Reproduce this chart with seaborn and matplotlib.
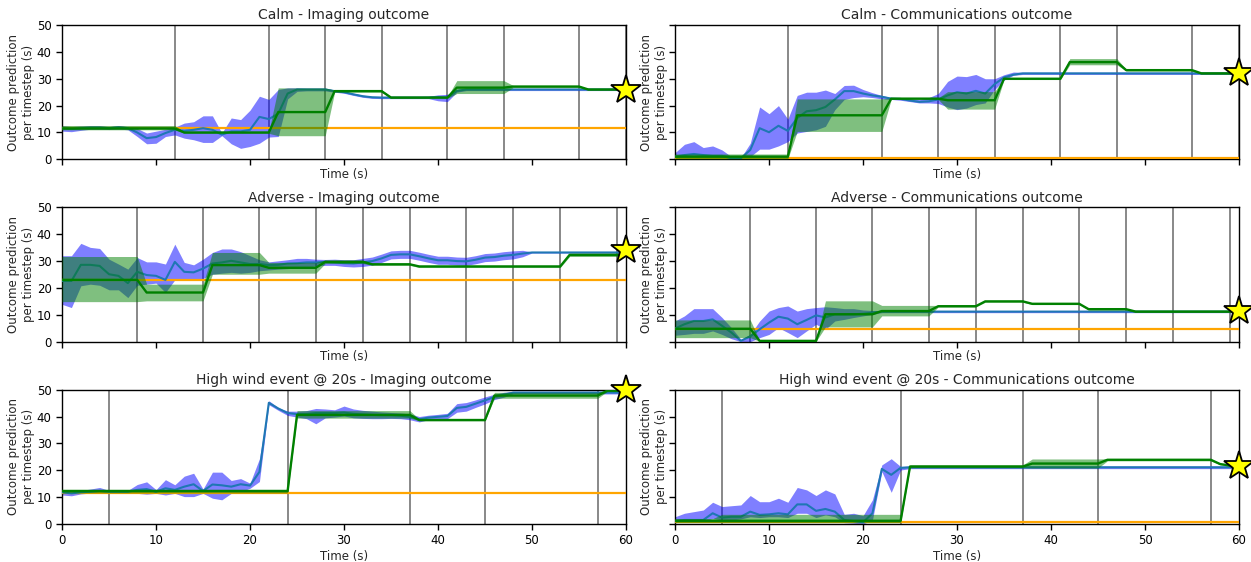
import numpy as np
import matplotlib
matplotlib.use("Agg")
import matplotlib.pyplot as plt
import seaborn as sns

time = np.arange(0, 61)

# ---------------- Calm - Imaging ----------------
calm_img_blue = [
    11.5, 11.3, 11.6, 11.8, 11.8, 11.6, 11.9, 11.6, 10.0, 7.9,
    8.3, 9.8, 11.0, 10.6, 11.0, 11.6, 11.0, 9.2, 10.4, 10.4,
    11.0, 15.8, 15.0, 17.0, 24.5, 26.0, 26.0, 26.0, 26.0, 25.4,
    25.0, 24.2, 23.5, 23.1, 23.0, 23.0, 23.0, 23.0, 23.0, 23.0,
    23.2, 23.0, 25.5, 26.0, 26.0, 26.0, 26.0, 26.0, 26.0, 26.0,
    26.0, 26.0, 26.0, 26.0, 26.0, 26.0, 26.0, 26.0, 26.0, 26.0,
    26.0]
calm_img_blue_lo = [
    10.5, 10.3, 10.8, 11.2, 11.2, 11.1, 11.3, 11.0, 8.5, 5.8,
    6.0, 8.5, 9.1, 7.9, 7.3, 6.3, 6.3, 8.8, 5.8, 4.1,
    4.8, 6.0, 8.3, 8.5, 22.5, 25.3, 25.5, 25.5, 25.5, 25.0,
    24.6, 23.8, 23.1, 22.7, 22.6, 22.6, 22.6, 22.6, 22.6, 22.6,
    21.8, 21.5, 25.0, 25.6, 25.6, 25.6, 25.6, 25.6, 25.6, 25.6,
    25.6, 25.6, 25.6, 25.6, 25.6, 25.6, 25.6, 25.6, 25.6, 25.6,
    25.6]
calm_img_blue_hi = [
    12.5, 12.2, 12.4, 12.5, 12.5, 12.2, 12.6, 12.2, 11.5, 9.8,
    10.5, 11.2, 12.0, 13.5, 14.0, 16.2, 16.2, 9.8, 15.4, 14.8,
    18.3, 23.5, 22.3, 26.0, 26.6, 26.6, 26.5, 26.5, 26.5, 25.8,
    25.4, 24.6, 23.9, 23.5, 23.4, 23.4, 23.4, 23.4, 23.4, 23.5,
    24.0, 24.2, 26.0, 26.4, 26.4, 26.4, 26.4, 26.4, 26.4, 26.4,
    26.4, 26.4, 26.4, 26.4, 26.4, 26.4, 26.4, 26.4, 26.4, 26.4,
    26.4]
calm_img_green = [
    11.5, 11.5, 11.5, 11.5, 11.5, 11.5, 11.5, 11.5, 11.5, 11.5,
    11.5, 11.5, 11.5, 10.0, 10.0, 10.0, 10.0, 10.0, 10.0, 10.0,
    10.0, 10.0, 10.0, 17.6, 17.6, 17.6, 17.6, 17.6, 17.6, 25.4,
    25.4, 25.4, 25.4, 25.4, 25.4, 23.0, 23.0, 23.0, 23.0, 23.0,
    23.0, 23.0, 26.7, 26.7, 26.7, 26.7, 26.7, 26.7, 27.1, 27.1,
    27.1, 27.1, 27.1, 27.1, 27.1, 27.1, 26.0, 26.0, 26.0, 26.0,
    26.0]
calm_img_green_lo = [
    11.0, 11.0, 11.0, 11.0, 11.0, 11.0, 11.0, 11.0, 11.0, 11.0,
    11.0, 11.0, 11.0, 9.7, 9.7, 9.7, 9.7, 9.7, 9.7, 9.7,
    9.7, 9.7, 9.7, 8.8, 8.8, 8.8, 8.8, 8.8, 8.8, 25.0,
    25.0, 25.0, 25.0, 25.0, 25.0, 22.7, 22.7, 22.7, 22.7, 22.7,
    22.7, 22.7, 24.5, 24.5, 24.5, 24.5, 24.5, 24.5, 26.7, 26.7,
    26.7, 26.7, 26.7, 26.7, 26.7, 26.7, 25.7, 25.7, 25.7, 25.7,
    25.7]
calm_img_green_hi = [
    12.6, 12.6, 12.6, 12.6, 12.6, 12.6, 12.6, 12.6, 12.6, 12.6,
    12.6, 12.6, 12.6, 10.3, 10.3, 10.3, 10.3, 10.3, 10.3, 10.3,
    10.3, 10.3, 10.3, 26.6, 26.6, 26.6, 26.6, 26.6, 26.6, 25.8,
    25.8, 25.8, 25.8, 25.8, 25.8, 23.3, 23.3, 23.3, 23.3, 23.3,
    23.3, 23.3, 29.3, 29.3, 29.3, 29.3, 29.3, 29.3, 27.5, 27.5,
    27.5, 27.5, 27.5, 27.5, 27.5, 27.5, 26.3, 26.3, 26.3, 26.3,
    26.3]

# ---------------- Calm - Communications ----------------
calm_comm_blue = [
    1.0, 1.6, 2.0, 1.6, 1.3, 1.3, 0.4, 0.4, 3.5, 11.6,
    10.1, 12.5, 10.6, 15.4, 17.9, 18.3, 19.5, 22.3, 25.4, 25.4,
    24.5, 23.8, 23.3, 22.6, 22.5, 21.9, 21.4, 21.6, 22.3, 23.8,
    25.0, 24.5, 25.5, 24.5, 28.0, 30.5, 31.5, 32.0, 32.0, 32.0,
    32.0, 32.0, 32.0, 32.0, 32.0, 32.0, 32.0, 32.0, 32.0, 32.0,
    32.0, 32.0, 32.0, 32.0, 32.0, 32.0, 32.0, 32.0, 32.0, 32.0,
    32.0]
calm_comm_blue_lo = [
    0.0, 0.8, 1.0, 0.6, 0.4, 0.0, 0.0, 0.0, 1.0, 3.8,
    3.8, 5.0, 6.6, 9.8, 10.4, 11.0, 12.3, 18.5, 22.3, 23.0,
    23.3, 23.0, 22.5, 22.3, 22.0, 21.5, 21.0, 21.0, 20.8, 19.5,
    18.5, 19.1, 20.4, 21.0, 26.0, 29.5, 31.3, 31.6, 31.6, 31.6,
    31.6, 31.6, 31.6, 31.6, 31.6, 31.6, 31.6, 31.6, 31.6, 31.6,
    31.6, 31.6, 31.6, 31.6, 31.6, 31.6, 31.6, 31.6, 31.6, 31.6,
    31.6]
calm_comm_blue_hi = [
    2.5, 5.6, 6.6, 4.4, 5.0, 3.5, 1.0, 0.6, 6.0, 19.5,
    17.0, 20.0, 15.0, 23.8, 25.0, 25.0, 25.8, 24.5, 27.5, 27.6,
    26.0, 24.8, 23.8, 23.0, 23.0, 22.5, 22.2, 23.0, 24.5, 29.0,
    31.0, 30.8, 31.6, 30.0, 30.0, 31.5, 32.5, 32.4, 32.4, 32.4,
    32.4, 32.4, 32.4, 32.4, 32.4, 32.4, 32.4, 32.4, 32.4, 32.4,
    32.4, 32.4, 32.4, 32.4, 32.4, 32.4, 32.4, 32.4, 32.4, 32.4,
    32.4]
calm_comm_green = [
    1.0, 1.0, 1.0, 1.0, 1.0, 1.0, 1.0, 1.0, 1.0, 1.0,
    1.0, 1.0, 1.0, 16.4, 16.4, 16.4, 16.4, 16.4, 16.4, 16.4,
    16.4, 16.4, 16.4, 22.6, 22.6, 22.6, 22.6, 22.6, 22.6, 22.0,
    22.0, 22.0, 22.0, 22.0, 22.0, 30.0, 30.0, 30.0, 30.0, 30.0,
    30.0, 30.0, 36.2, 36.2, 36.2, 36.2, 36.2, 36.2, 33.2, 33.2,
    33.2, 33.2, 33.2, 33.2, 33.2, 33.2, 32.0, 32.0, 32.0, 32.0,
    32.0]
calm_comm_green_lo = [
    0.2, 0.2, 0.2, 0.2, 0.2, 0.2, 0.2, 0.2, 0.2, 0.2,
    0.2, 0.2, 0.2, 10.4, 10.4, 10.4, 10.4, 10.4, 10.4, 10.4,
    10.4, 10.4, 10.4, 22.3, 22.3, 22.3, 22.3, 22.3, 22.3, 18.7,
    18.7, 18.7, 18.7, 18.7, 18.7, 29.7, 29.7, 29.7, 29.7, 29.7,
    29.7, 29.7, 35.2, 35.2, 35.2, 35.2, 35.2, 35.2, 32.9, 32.9,
    32.9, 32.9, 32.9, 32.9, 32.9, 32.9, 31.7, 31.7, 31.7, 31.7,
    31.7]
calm_comm_green_hi = [
    2.0, 2.0, 2.0, 2.0, 2.0, 2.0, 2.0, 2.0, 2.0, 2.0,
    2.0, 2.0, 2.0, 22.5, 22.5, 22.5, 22.5, 22.5, 22.5, 22.5,
    22.5, 22.5, 22.5, 22.9, 22.9, 22.9, 22.9, 22.9, 22.9, 25.2,
    25.2, 25.2, 25.2, 25.2, 25.2, 30.3, 30.3, 30.3, 30.3, 30.3,
    30.3, 30.3, 37.5, 37.5, 37.5, 37.5, 37.5, 37.5, 33.5, 33.5,
    33.5, 33.5, 33.5, 33.5, 33.5, 33.5, 32.3, 32.3, 32.3, 32.3,
    32.3]

# ---------------- Adverse - Imaging ----------------
adv_img_blue = [
    22.6, 22.6, 28.6, 28.6, 28.2, 25.1, 24.5, 21.8, 26.0, 24.8,
    24.5, 23.0, 29.7, 26.0, 25.8, 27.2, 29.1, 29.5, 30.1, 29.5,
    28.9, 28.9, 28.5, 28.6, 29.1, 29.2, 29.5, 29.5, 29.7, 29.5,
    29.2, 29.1, 29.5, 30.0, 31.0, 32.3, 32.5, 32.5, 31.8, 31.0,
    30.3, 30.3, 30.0, 29.9, 30.5, 31.3, 31.5, 32.0, 32.3, 32.8,
    33.2, 33.2, 33.2, 33.2, 33.2, 33.2, 33.2, 33.2, 33.2, 33.2,
    33.2]
adv_img_blue_lo = [
    13.9, 12.7, 20.8, 21.4, 21.0, 19.3, 19.3, 16.4, 21.0, 21.4,
    21.8, 18.3, 23.0, 23.0, 23.3, 23.5, 25.1, 25.5, 25.8, 25.5,
    25.8, 26.4, 26.7, 27.0, 27.2, 27.6, 27.6, 28.2, 28.4, 28.4,
    28.0, 27.8, 28.0, 28.5, 29.5, 30.8, 31.0, 31.0, 30.3, 29.5,
    28.8, 28.8, 28.5, 28.4, 29.0, 29.8, 30.0, 30.5, 30.8, 31.6,
    33.0, 33.0, 33.0, 33.0, 33.0, 33.0, 33.0, 33.0, 33.0, 33.0,
    33.0]
adv_img_blue_hi = [
    32.0, 32.0, 36.6, 35.1, 34.7, 30.7, 28.9, 27.0, 31.3, 29.7,
    29.7, 28.9, 36.3, 29.5, 28.6, 30.7, 33.2, 34.5, 34.5, 33.5,
    32.0, 30.5, 29.7, 30.1, 30.5, 31.0, 31.0, 30.7, 30.6, 30.7,
    30.5, 30.5, 31.0, 31.5, 32.6, 33.8, 34.0, 34.0, 33.3, 32.5,
    31.8, 31.8, 31.5, 31.4, 32.0, 32.8, 33.0, 33.5, 33.8, 34.0,
    33.4, 33.4, 33.4, 33.4, 33.4, 33.4, 33.4, 33.4, 33.4, 33.4,
    33.4]
adv_img_green = [
    23.0, 23.0, 23.0, 23.0, 23.0, 23.0, 23.0, 23.0, 23.0, 18.3,
    18.3, 18.3, 18.3, 18.3, 18.3, 18.3, 28.5, 28.5, 28.5, 28.5,
    28.5, 28.5, 27.5, 27.5, 27.5, 27.5, 27.5, 27.5, 29.7, 29.7,
    29.7, 29.7, 29.7, 28.8, 28.8, 28.8, 28.8, 28.8, 28.0, 28.0,
    28.0, 28.0, 28.0, 28.0, 28.0, 28.0, 28.0, 28.0, 28.0, 28.0,
    28.0, 28.0, 28.0, 28.0, 32.3, 32.3, 32.3, 32.3, 32.3, 32.3,
    32.3]
adv_img_green_lo = [
    14.9, 14.9, 14.9, 14.9, 14.9, 14.9, 14.9, 14.9, 14.9, 15.2,
    15.2, 15.2, 15.2, 15.2, 15.2, 15.2, 25.1, 25.1, 25.1, 25.1,
    25.1, 25.1, 25.5, 25.5, 25.5, 25.5, 25.5, 25.5, 29.1, 29.1,
    29.1, 29.1, 29.1, 28.4, 28.4, 28.4, 28.4, 28.4, 27.6, 27.6,
    27.6, 27.6, 27.6, 27.6, 27.6, 27.6, 27.6, 27.6, 27.6, 27.6,
    27.6, 27.6, 27.6, 27.6, 31.7, 31.7, 31.7, 31.7, 31.7, 31.7,
    31.7]
adv_img_green_hi = [
    31.7, 31.7, 31.7, 31.7, 31.7, 31.7, 31.7, 31.7, 31.7, 21.4,
    21.4, 21.4, 21.4, 21.4, 21.4, 21.4, 33.2, 33.2, 33.2, 33.2,
    33.2, 33.2, 29.5, 29.5, 29.5, 29.5, 29.5, 29.5, 30.4, 30.4,
    30.4, 30.4, 30.4, 29.2, 29.2, 29.2, 29.2, 29.2, 28.4, 28.4,
    28.4, 28.4, 28.4, 28.4, 28.4, 28.4, 28.4, 28.4, 28.4, 28.4,
    28.4, 28.4, 28.4, 28.4, 32.9, 32.9, 32.9, 32.9, 32.9, 32.9,
    32.9]

# ---------------- Adverse - Communications ----------------
adv_comm_blue = [
    4.9, 6.5, 7.7, 7.7, 8.3, 5.9, 3.4, 0.3, 2.0, 4.6,
    7.1, 9.3, 8.6, 6.5, 8.1, 9.8, 9.0, 10.2, 10.2, 10.2,
    10.4, 10.8, 11.2, 11.2, 11.2, 11.2, 11.2, 11.2, 11.2, 11.2,
    11.2, 11.2, 11.2, 11.2, 11.2, 11.2, 11.2, 11.2, 11.2, 11.2,
    11.2, 11.2, 11.2, 11.2, 11.2, 11.2, 11.2, 11.2, 11.2, 11.2,
    11.2, 11.2, 11.2, 11.2, 11.2, 11.2, 11.2, 11.2, 11.2, 11.2,
    11.2]
adv_comm_blue_lo = [
    2.4, 2.7, 3.1, 3.1, 4.0, 2.7, 1.1, 0.0, 0.0, 1.5,
    2.7, 5.2, 3.4, 1.5, 4.0, 6.5, 4.6, 7.7, 8.3, 9.0,
    9.6, 10.2, 10.8, 10.8, 10.8, 10.8, 10.8, 10.8, 10.8, 10.8,
    10.8, 10.8, 10.8, 10.8, 10.8, 10.8, 10.8, 10.8, 10.8, 10.8,
    10.8, 10.8, 10.8, 10.8, 10.8, 10.8, 10.8, 10.8, 10.8, 10.8,
    10.8, 10.8, 10.8, 10.8, 10.8, 10.8, 10.8, 10.8, 10.8, 10.8,
    10.8]
adv_comm_blue_hi = [
    7.7, 9.6, 12.3, 12.3, 12.3, 9.0, 5.2, 0.9, 2.7, 7.7,
    11.4, 12.7, 13.3, 11.4, 12.3, 12.7, 13.0, 12.7, 12.3, 12.3,
    11.8, 11.6, 11.6, 11.6, 11.6, 11.6, 11.6, 11.6, 11.6, 11.6,
    11.6, 11.6, 11.6, 11.6, 11.6, 11.6, 11.6, 11.6, 11.6, 11.6,
    11.6, 11.6, 11.6, 11.6, 11.6, 11.6, 11.6, 11.6, 11.6, 11.6,
    11.6, 11.6, 11.6, 11.6, 11.6, 11.6, 11.6, 11.6, 11.6, 11.6,
    11.6]
adv_comm_green = [
    4.8, 4.8, 4.8, 4.8, 4.8, 4.8, 4.8, 4.8, 4.8, 0.3,
    0.3, 0.3, 0.3, 0.3, 0.3, 0.3, 10.2, 10.2, 10.2, 10.2,
    10.2, 10.2, 11.4, 11.4, 11.4, 11.4, 11.4, 11.4, 13.2, 13.2,
    13.2, 13.2, 13.2, 15.0, 15.0, 15.0, 15.0, 15.0, 14.1, 14.1,
    14.1, 14.1, 14.1, 14.1, 12.1, 12.1, 12.1, 12.1, 12.1, 11.2,
    11.2, 11.2, 11.2, 11.2, 11.2, 11.2, 11.2, 11.2, 11.2, 11.2,
    11.2]
adv_comm_green_lo = [
    1.5, 1.5, 1.5, 1.5, 1.5, 1.5, 1.5, 1.5, 1.5, 0.1,
    0.1, 0.1, 0.1, 0.1, 0.1, 0.1, 5.5, 5.5, 5.5, 5.5,
    5.5, 5.5, 9.6, 9.6, 9.6, 9.6, 9.6, 9.6, 12.9, 12.9,
    12.9, 12.9, 12.9, 14.7, 14.7, 14.7, 14.7, 14.7, 13.8, 13.8,
    13.8, 13.8, 13.8, 13.8, 11.8, 11.8, 11.8, 11.8, 11.8, 10.9,
    10.9, 10.9, 10.9, 10.9, 10.9, 10.9, 10.9, 10.9, 10.9, 10.9,
    10.9]
adv_comm_green_hi = [
    8.1, 8.1, 8.1, 8.1, 8.1, 8.1, 8.1, 8.1, 8.1, 0.5,
    0.5, 0.5, 0.5, 0.5, 0.5, 0.5, 15.2, 15.2, 15.2, 15.2,
    15.2, 15.2, 13.5, 13.5, 13.5, 13.5, 13.5, 13.5, 13.5, 13.5,
    13.5, 13.5, 13.5, 15.3, 15.3, 15.3, 15.3, 15.3, 14.4, 14.4,
    14.4, 14.4, 14.4, 14.4, 12.4, 12.4, 12.4, 12.4, 12.4, 11.5,
    11.5, 11.5, 11.5, 11.5, 11.5, 11.5, 11.5, 11.5, 11.5, 11.5,
    11.5]

# ---------------- High wind - Imaging ----------------
wind_img_blue = [
    11.8, 11.4, 11.8, 12.0, 12.3, 12.0, 12.0, 12.0, 12.7, 13.0,
    12.0, 13.3, 12.7, 13.9, 14.8, 12.3, 14.7, 14.4, 13.9, 14.8,
    14.3, 19.4, 45.1, 43.0, 41.3, 40.9, 40.9, 41.3, 41.3, 41.3,
    41.5, 41.0, 40.8, 40.6, 40.5, 40.5, 40.3, 39.9, 39.0, 39.6,
    39.9, 40.2, 43.2, 43.6, 44.8, 46.0, 47.3, 48.1, 48.9, 48.9,
    48.9, 48.9, 48.9, 48.9, 48.9, 48.9, 48.9, 48.9, 48.9, 48.9,
    48.9]
wind_img_blue_lo = [
    10.8, 10.5, 11.2, 11.5, 11.5, 11.5, 11.5, 11.5, 11.4, 11.1,
    11.4, 10.8, 11.4, 10.2, 10.2, 11.4, 9.6, 9.0, 11.4, 12.0,
    13.3, 15.8, 44.4, 42.3, 40.4, 39.8, 39.2, 37.3, 39.5, 39.8,
    40.2, 39.5, 39.3, 39.2, 39.2, 39.3, 39.2, 38.8, 38.0, 38.8,
    39.0, 39.2, 41.6, 42.0, 43.4, 44.7, 46.3, 47.2, 48.4, 48.4,
    48.4, 48.4, 48.4, 48.4, 48.4, 48.4, 48.4, 48.4, 48.4, 48.4,
    48.4]
wind_img_blue_hi = [
    12.5, 12.3, 12.5, 13.0, 13.6, 12.5, 12.5, 12.5, 14.7, 15.7,
    12.8, 16.5, 14.6, 17.8, 18.9, 13.0, 19.3, 19.3, 16.2, 16.9,
    15.2, 24.3, 45.9, 43.3, 42.0, 42.0, 42.2, 43.0, 42.8, 42.5,
    43.9, 42.8, 42.3, 42.0, 41.7, 41.5, 41.3, 41.0, 40.0, 40.5,
    40.8, 41.2, 44.8, 45.2, 46.2, 47.3, 48.3, 49.0, 49.4, 49.4,
    49.4, 49.4, 49.4, 49.4, 49.4, 49.4, 49.4, 49.4, 49.4, 49.4,
    49.4]
wind_img_green = [
    12.3, 12.3, 12.3, 12.3, 12.3, 12.3, 12.3, 12.3, 12.3, 12.3,
    12.3, 12.3, 12.3, 12.3, 12.3, 12.3, 12.3, 12.3, 12.3, 12.3,
    12.3, 12.3, 12.3, 12.3, 12.3, 40.6, 40.6, 40.6, 40.6, 40.6,
    40.6, 40.6, 40.6, 40.6, 40.6, 40.6, 40.6, 40.6, 38.7, 38.7,
    38.7, 38.7, 38.7, 38.7, 38.7, 38.7, 47.8, 47.8, 47.8, 47.8,
    47.8, 47.8, 47.8, 47.8, 47.8, 47.8, 47.8, 47.8, 49.6, 49.6,
    49.6]
wind_img_green_lo = [
    11.6, 11.6, 11.6, 11.6, 11.6, 11.6, 11.6, 11.6, 11.6, 11.6,
    11.6, 11.6, 11.6, 11.6, 11.6, 11.6, 11.6, 11.6, 11.6, 11.6,
    11.6, 11.6, 11.6, 11.6, 11.6, 39.4, 39.4, 39.4, 39.4, 39.4,
    39.4, 39.4, 39.4, 39.4, 39.4, 39.4, 39.4, 39.4, 38.4, 38.4,
    38.4, 38.4, 38.4, 38.4, 38.4, 38.4, 46.8, 46.8, 46.8, 46.8,
    46.8, 46.8, 46.8, 46.8, 46.8, 46.8, 46.8, 46.8, 49.3, 49.3,
    49.3]
wind_img_green_hi = [
    12.8, 12.8, 12.8, 12.8, 12.8, 12.8, 12.8, 12.8, 12.8, 12.8,
    12.8, 12.8, 12.8, 12.8, 12.8, 12.8, 12.8, 12.8, 12.8, 12.8,
    12.8, 12.8, 12.8, 12.8, 12.8, 42.2, 42.2, 42.2, 42.2, 42.2,
    42.2, 42.2, 42.2, 42.2, 42.2, 42.2, 42.2, 42.2, 39.0, 39.0,
    39.0, 39.0, 39.0, 39.0, 39.0, 39.0, 49.0, 49.0, 49.0, 49.0,
    49.0, 49.0, 49.0, 49.0, 49.0, 49.0, 49.0, 49.0, 49.9, 49.9,
    49.9]

# ---------------- High wind - Communications ----------------
wind_comm_blue = [
    1.1, 1.5, 1.5, 1.5, 4.0, 2.4, 2.7, 2.7, 4.6, 3.4,
    3.6, 4.0, 3.6, 7.3, 7.3, 4.9, 5.6, 4.6, 1.5, 1.1,
    0.6, 4.0, 20.5, 18.3, 20.9, 21.1, 21.1, 21.1, 21.1, 21.1,
    21.1, 21.1, 21.1, 21.1, 21.1, 21.1, 21.1, 21.1, 21.1, 21.1,
    21.1, 21.1, 21.1, 21.1, 21.1, 21.1, 21.1, 21.1, 21.1, 21.1,
    21.1, 21.1, 21.1, 21.1, 21.1, 21.1, 21.1, 21.1, 21.1, 21.1,
    21.1]
wind_comm_blue_lo = [
    0.5, 0.9, 0.9, 0.9, 2.1, 1.5, 1.5, 1.9, 2.7, 2.4,
    2.7, 2.7, 2.4, 4.0, 4.0, 2.4, 3.4, 2.7, 0.5, 0.3,
    0.0, 1.5, 19.5, 11.8, 20.1, 20.6, 20.6, 20.6, 20.6, 20.6,
    20.6, 20.6, 20.6, 20.6, 20.6, 20.6, 20.6, 20.6, 20.6, 20.6,
    20.6, 20.6, 20.6, 20.6, 20.6, 20.6, 20.6, 20.6, 20.6, 20.6,
    20.6, 20.6, 20.6, 20.6, 20.6, 20.6, 20.6, 20.6, 20.6, 20.6,
    20.6]
wind_comm_blue_hi = [
    2.7, 4.0, 4.6, 5.2, 8.1, 6.5, 6.8, 7.1, 10.6, 8.3,
    8.3, 9.6, 8.1, 13.6, 12.7, 10.6, 12.7, 11.2, 3.6, 4.0,
    3.1, 9.0, 22.0, 24.3, 21.4, 21.6, 21.6, 21.6, 21.6, 21.6,
    21.6, 21.6, 21.6, 21.6, 21.6, 21.6, 21.6, 21.6, 21.6, 21.6,
    21.6, 21.6, 21.6, 21.6, 21.6, 21.6, 21.6, 21.6, 21.6, 21.6,
    21.6, 21.6, 21.6, 21.6, 21.6, 21.6, 21.6, 21.6, 21.6, 21.6,
    21.6]
wind_comm_green = [
    1.2, 1.2, 1.2, 1.2, 1.2, 1.2, 1.2, 1.2, 1.2, 1.2,
    1.2, 1.2, 1.2, 1.2, 1.2, 1.2, 1.2, 1.2, 1.2, 1.2,
    1.2, 1.2, 1.2, 1.2, 1.2, 21.4, 21.4, 21.4, 21.4, 21.4,
    21.4, 21.4, 21.4, 21.4, 21.4, 21.4, 21.4, 21.4, 22.5, 22.5,
    22.5, 22.5, 22.5, 22.5, 22.5, 22.5, 23.9, 23.9, 23.9, 23.9,
    23.9, 23.9, 23.9, 23.9, 23.9, 23.9, 23.9, 23.9, 22.3, 21.8,
    21.8]
wind_comm_green_lo = [
    0.5, 0.5, 0.5, 0.5, 0.5, 0.5, 0.5, 0.5, 0.5, 0.5,
    0.5, 0.5, 0.5, 0.5, 0.5, 0.5, 0.5, 0.5, 0.5, 0.5,
    0.5, 0.5, 0.5, 0.5, 0.5, 20.9, 20.9, 20.9, 20.9, 20.9,
    20.9, 20.9, 20.9, 20.9, 20.9, 20.9, 20.9, 20.9, 20.8, 20.8,
    20.8, 20.8, 20.8, 20.8, 20.8, 20.8, 23.5, 23.5, 23.5, 23.5,
    23.5, 23.5, 23.5, 23.5, 23.5, 23.5, 23.5, 23.5, 22.0, 21.5,
    21.5]
wind_comm_green_hi = [
    2.0, 2.0, 2.0, 2.0, 2.0, 3.6, 3.6, 3.6, 3.6, 3.6,
    3.6, 3.6, 3.6, 3.6, 3.6, 3.6, 3.6, 3.6, 3.6, 3.6,
    3.6, 3.6, 3.6, 3.6, 3.6, 22.0, 22.0, 22.0, 22.0, 22.0,
    22.0, 22.0, 22.0, 22.0, 22.0, 22.0, 22.0, 22.0, 24.2, 24.2,
    24.2, 24.2, 24.2, 24.2, 24.2, 24.2, 24.3, 24.3, 24.3, 24.3,
    24.3, 24.3, 24.3, 24.3, 24.3, 24.3, 24.3, 24.3, 22.6, 22.1,
    22.1]

titles = ["Calm - Imaging outcome", "Calm - Communications outcome",
          "Adverse - Imaging outcome", "Adverse - Communications outcome",
          "High wind event @ 20s - Imaging outcome",
          "High wind event @ 20s - Communications outcome"]
baseline = [11.7, 0.5, 23.0, 4.6, 11.7, 0.9]
star_value = [26.0, 32.3, 34.0, 11.3, 49.8, 21.6]
calm_events = [12, 22, 28, 34, 41, 47, 55, 60]
adverse_events = [8, 15, 21, 27, 32, 37, 43, 48, 53, 59]
wind_events = [5, 24, 37, 45, 57]
row_events = [calm_events, adverse_events, wind_events]

panels = [
    (calm_img_blue, calm_img_blue_lo, calm_img_blue_hi,
     calm_img_green, calm_img_green_lo, calm_img_green_hi),
    (calm_comm_blue, calm_comm_blue_lo, calm_comm_blue_hi,
     calm_comm_green, calm_comm_green_lo, calm_comm_green_hi),
    (adv_img_blue, adv_img_blue_lo, adv_img_blue_hi,
     adv_img_green, adv_img_green_lo, adv_img_green_hi),
    (adv_comm_blue, adv_comm_blue_lo, adv_comm_blue_hi,
     adv_comm_green, adv_comm_green_lo, adv_comm_green_hi),
    (wind_img_blue, wind_img_blue_lo, wind_img_blue_hi,
     wind_img_green, wind_img_green_lo, wind_img_green_hi),
    (wind_comm_blue, wind_comm_blue_lo, wind_comm_blue_hi,
     wind_comm_green, wind_comm_green_lo, wind_comm_green_hi),
]

sns.set_theme(style="ticks", rc={"axes.edgecolor": "black",
                                 "xtick.color": "black", "ytick.color": "black",
                                 "axes.linewidth": 1.0})
plt.rcParams["font.family"] = ["DejaVu Sans"]

fig, axes = plt.subplots(3, 2, figsize=(12.51, 5.62), dpi=100,
                         sharex=True, sharey=True)
fig.subplots_adjust(left=0.0496, right=0.9904, top=0.9555, bottom=0.0676,
                    wspace=0.087, hspace=0.357)

for i, ax in enumerate(axes.flat):
    b, blo, bhi, g, glo, ghi = panels[i]
    for ev in row_events[i // 2]:
        ax.axvline(ev, color="black", alpha=0.5, lw=1.3, zorder=1)
    ax.fill_between(time, blo, bhi, color="blue", alpha=0.5, lw=0, zorder=2)
    ax.axhline(baseline[i], color="orange", lw=1.6, zorder=3)
    sns.lineplot(x=time, y=b, ax=ax, color="tab:blue", linewidth=1.5, zorder=4)
    ax.fill_between(time, glo, ghi, color="green", alpha=0.5, lw=0, zorder=5)
    sns.lineplot(x=time, y=g, ax=ax, color="green", linewidth=1.7, zorder=6)
    ax.plot([60], [star_value[i]], marker="*", markersize=22,
            markerfacecolor="yellow", markeredgecolor="black",
            markeredgewidth=1.3, clip_on=False, zorder=10)
    ax.set_xlim(0, 60)
    ax.set_ylim(0, 50)
    ax.set_xticks(range(0, 61, 10))
    ax.set_yticks(range(0, 51, 10))
    ax.set_title(titles[i], fontsize=10, pad=4)
    ax.set_xlabel("Time (s)", fontsize=8.5, labelpad=2)
    ax.set_ylabel("Outcome prediction\nper timestep (s)", fontsize=8.5,
                  labelpad=1)
    ax.xaxis.label.set_visible(True)
    ax.yaxis.label.set_visible(True)
    ax.tick_params(labelsize=8.5, length=4, width=1)

fig.savefig("out.png", dpi=100)
